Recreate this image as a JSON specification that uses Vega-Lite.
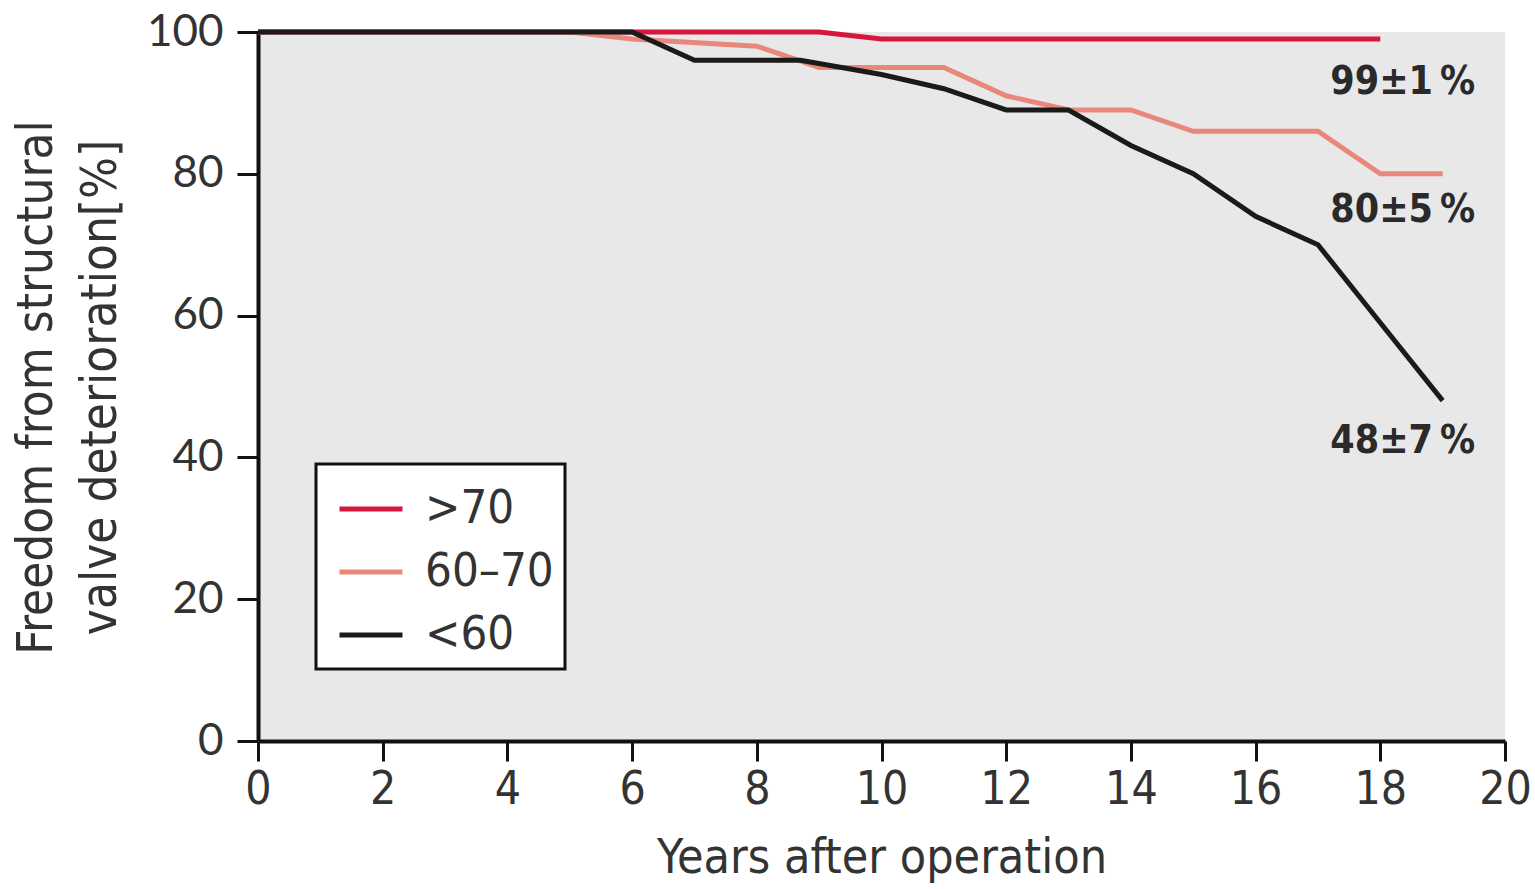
{
  "$schema": "https://vega.github.io/schema/vega-lite/v6.json",
  "width": 1247,
  "height": 709,
  "autosize": {"type": "none"},
  "padding": {"left": 258, "top": 32, "right": 30, "bottom": 148},
  "background": "white",
  "config": {
    "view": {"fill": "#e8e8e8", "stroke": null}
  },
  "datasets": {
    "curves": [
      {"group": ">70", "year": 0, "value": 100},
      {"group": ">70", "year": 9, "value": 100},
      {"group": ">70", "year": 10, "value": 99},
      {"group": ">70", "year": 18, "value": 99},
      {"group": "60–70", "year": 0, "value": 100},
      {"group": "60–70", "year": 5, "value": 100},
      {"group": "60–70", "year": 6, "value": 99},
      {"group": "60–70", "year": 8, "value": 98},
      {"group": "60–70", "year": 9, "value": 95},
      {"group": "60–70", "year": 11, "value": 95},
      {"group": "60–70", "year": 12, "value": 91},
      {"group": "60–70", "year": 13, "value": 89},
      {"group": "60–70", "year": 14, "value": 89},
      {"group": "60–70", "year": 15, "value": 86},
      {"group": "60–70", "year": 17, "value": 86},
      {"group": "60–70", "year": 18, "value": 80},
      {"group": "60–70", "year": 19, "value": 80},
      {"group": "<60", "year": 0, "value": 100},
      {"group": "<60", "year": 6, "value": 100},
      {"group": "<60", "year": 7, "value": 96},
      {"group": "<60", "year": 8.7, "value": 96},
      {"group": "<60", "year": 10, "value": 94},
      {"group": "<60", "year": 11, "value": 92},
      {"group": "<60", "year": 12, "value": 89},
      {"group": "<60", "year": 13, "value": 89},
      {"group": "<60", "year": 14, "value": 84},
      {"group": "<60", "year": 15, "value": 80},
      {"group": "<60", "year": 16, "value": 74},
      {"group": "<60", "year": 17, "value": 70},
      {"group": "<60", "year": 18, "value": 59},
      {"group": "<60", "year": 19, "value": 48}
    ],
    "labels": [
      {"year": 18.36, "value": 91.2, "text": "99±1\u2009%"},
      {"year": 18.36, "value": 73.2, "text": "80±5\u2009%"},
      {"year": 18.36, "value": 40.6, "text": "48±7\u2009%"}
    ]
  },
  "layer": [
    {
      "data": {"name": "curves"},
      "mark": {"type": "line", "strokeWidth": 5, "strokeJoin": "miter", "clip": false},
      "encoding": {
        "x": {
          "field": "year", "type": "quantitative",
          "scale": {"domain": [0, 20], "nice": false},
          "axis": {
            "title": "Years after operation",
            "values": [0, 2, 4, 6, 8, 10, 12, 14, 16, 18, 20],
            "format": "d",
            "grid": false,
            "domainColor": "#111111", "domainWidth": 4,
            "tickColor": "#111111", "tickWidth": 3, "tickSize": 20,
            "labelFont": "DejaVu Sans Condensed, Open Sans, sans-serif", "labelFontSize": 46, "labelColor": "#333333",
            "labelPadding": 6, "labelFlush": false,
            "titleFont": "DejaVu Sans Condensed, Open Sans, sans-serif", "titleFontSize": 48, "titleFontWeight": "normal",
            "titleColor": "#333333", "titleBaseline": "alphabetic", "titleY": 131
          }
        },
        "y": {
          "field": "value", "type": "quantitative",
          "scale": {"domain": [0, 100], "nice": false},
          "axis": {
            "title": ["Freedom from structural", "valve deterioration[%]"],
            "values": [0, 20, 40, 60, 80, 100],
            "grid": false,
            "domainColor": "#111111", "domainWidth": 4,
            "tickColor": "#111111", "tickWidth": 3, "tickSize": 21,
            "labelFont": "Lato", "labelFontSize": 44, "labelColor": "#333333",
            "labelPadding": 14, "labelFlush": false,
            "titleFont": "DejaVu Sans Condensed, Open Sans, sans-serif", "titleFontSize": 49, "titleFontWeight": "normal",
            "titleColor": "#333333", "titleLineHeight": 64,
            "titleAlign": "center", "titleBaseline": "top", "titleAngle": -90,
            "titleX": -246, "titleY": 355
          }
        },
        "color": {
          "field": "group", "type": "nominal",
          "scale": {"domain": [">70", "60–70", "<60"], "range": ["#d6163c", "#e8877a", "#1a1a1a"]},
          "legend": {
            "title": null,
            "orient": "none", "legendX": 58, "legendY": 432,
            "fillColor": "white", "strokeColor": "#111111",
            "padding": 11, "cornerRadius": 0,
            "symbolType": "stroke", "symbolSize": 3969, "symbolStrokeWidth": 5,
            "symbolOffset": 10,
            "labelFont": "DejaVu Sans Condensed, Open Sans, sans-serif", "labelFontSize": 47, "labelColor": "#333333",
            "labelOffset": 20, "rowPadding": 6,
            "encode": {"legend": {"update": {"strokeWidth": {"value": 3}}}}
          }
        }
      }
    },
    {
      "data": {"name": "labels"},
      "mark": {"type": "text", "font": "DejaVu Sans Condensed, Open Sans, sans-serif", "fontSize": 39, "fontWeight": "bold", "color": "#2a2a2a", "align": "center", "baseline": "alphabetic"},
      "encoding": {
        "x": {"field": "year", "type": "quantitative"},
        "y": {"field": "value", "type": "quantitative"},
        "text": {"field": "text"}
      }
    }
  ]
}
